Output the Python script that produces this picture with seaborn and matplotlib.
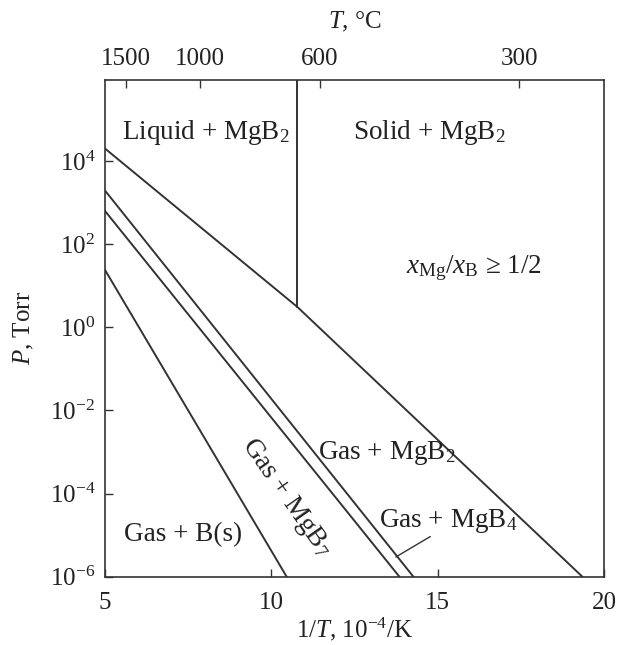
import numpy as np
import pandas as pd
import matplotlib
matplotlib.use("Agg")
import matplotlib.pyplot as plt
import seaborn as sns

# ---- data (1/T in 1e-4/K, P in Torr) ----
mg_x = [5.0, 10.78, 19.35]          # Mg vapour line (liquid, then solid)
mg_p = [2.0e4, 3.1, 1.0e-6]
melt_x = [10.78, 10.78]             # Mg melting line
melt_p = [3.1, 8.9e5]
mgb4_x = [5.0, 14.27]               # MgB2 / MgB4 boundary
mgb4_p = [1.95e3, 1.0e-6]
mgb7_x = [5.0, 13.85]               # MgB4 / MgB7 boundary
mgb7_p = [6.3e2, 1.0e-6]
b_x = [5.0, 10.46]                  # MgB7 / B boundary
b_p = [24.0, 1.0e-6]

x_ticks = [5, 10, 15, 20]
y_ticks = [1e-6, 1e-4, 1e-2, 1e0, 1e2, 1e4]
y_ticklabels = ["10$^{-6}$", "10$^{-4}$", "10$^{-2}$", "10$^{0}$", "10$^{2}$", "10$^{4}$"]
top_T = [1500, 1000, 600, 300]      # T, degC

sns.set_theme(style="ticks")
plt.rcParams["font.family"] = ["Liberation Serif", "DejaVu Serif"]
plt.rcParams["mathtext.fontset"] = "custom"
plt.rcParams["mathtext.rm"] = "Liberation Serif"
plt.rcParams["mathtext.it"] = "Liberation Serif:italic"
plt.rcParams["mathtext.bf"] = "Liberation Serif:bold"

INK = "#333333"
fig = plt.figure(figsize=(6.21, 6.45), dpi=100)
ax = fig.add_axes([105/621, 1-576.7/645, (604-105)/621, (576.7-80)/645])

lines = [(mg_x, mg_p), (melt_x, melt_p), (mgb4_x, mgb4_p), (mgb7_x, mgb7_p), (b_x, b_p)]
for i, (xs, ps) in enumerate(lines):
    df = pd.DataFrame({"x": xs, "p": ps})
    sns.lineplot(data=df, x="x", y="p", ax=ax, color=INK, lw=1.4, sort=False,
                 estimator=None)

ax.set_yscale("log")
ax.set_xlim(5, 20)
ax.set_ylim(1e-6, 10**5.95)
ax.set_xticks(x_ticks)
ax.set_xticklabels([str(v) for v in x_ticks])
ax.set_yticks(y_ticks)
ax.set_yticklabels(y_ticklabels)
ax.minorticks_off()
ax.yaxis.set_minor_locator(matplotlib.ticker.NullLocator())
ax.tick_params(direction="in", length=6, width=1.0, color=INK, labelsize=18,
               labelcolor="#222222", pad=7)
ax.tick_params(axis="x", pad=11)
for s in ax.spines.values():
    s.set_color(INK)
    s.set_linewidth(1.2)

ax.set_xlabel("1/$T$, 10$^{-4}$/K", fontsize=18, color="#222222", labelpad=1.5)
ax.set_ylabel("$P$, Torr", fontsize=18, color="#222222", labelpad=10)

ax2 = ax.twiny()
ax2.set_xlim(ax.get_xlim())
ax2.set_xticks([1e4 / (t + 273.15) for t in top_T])
ax2.set_xticklabels([str(t) for t in top_T])
ax2.tick_params(direction="in", length=6, width=1.0, color=INK, labelsize=18,
                labelcolor="#222222", pad=7)
ax2.minorticks_off()
for s in ax2.spines.values():
    s.set_visible(False)
ax2.set_xlabel("$T$, °C", fontsize=18, color="#222222", labelpad=14)

tk = dict(fontsize=19.5, color="#222222")
ax.text(5.51, 10**4.53, "Liquid + MgB$_2$", va="baseline", ha="left", **tk)
ax.text(12.45, 10**4.53, "Solid + MgB$_2$", va="baseline", ha="left", **tk)
ax.text(14.05, 10**1.31, "$x_{\\mathrm{Mg}}/x_{\\mathrm{B}}$ ≥ 1/2", va="baseline", ha="left", **tk)
ax.text(11.40, 10**-3.16, "Gas + MgB$_2$", va="baseline", ha="left", **tk)
ax.text(13.25, 10**-4.80, "Gas + MgB$_4$", va="baseline", ha="left", **tk)
ax.text(5.57, 10**-5.14, "Gas + B(s)", va="baseline", ha="left", **tk)
ax.text(10.44, 10**-4.09, "Gas + MgB$_7$", va="center", ha="center",
        rotation=-55, rotation_mode="anchor", **tk)
ax.annotate("", xy=(13.67, 10**-5.56), xytext=(14.85, 10**-5.0),
            arrowprops=dict(arrowstyle="-", color=INK, lw=1.0))

fig.savefig("out.png", dpi=100)
